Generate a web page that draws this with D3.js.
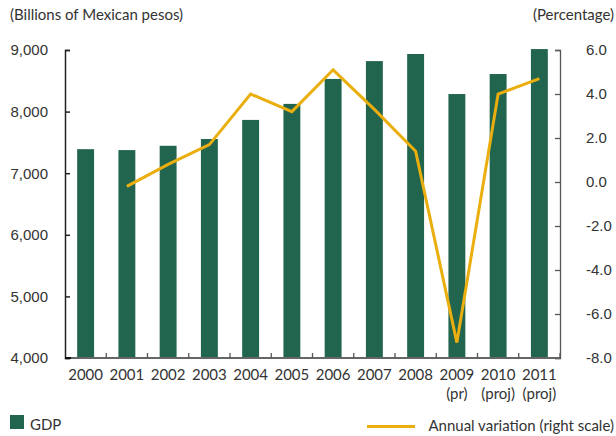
<!DOCTYPE html>
<html>
<head>
<meta charset="utf-8">
<script src="https://cdn.jsdelivr.net/npm/d3@7"></script>
<style>
  html, body { margin: 0; padding: 0; background: #fff; }
  svg { display: block; font-family: Lato, "Open Sans", sans-serif; font-weight: 400; }
  text { fill: #333; }
</style>
</head>
<body>
<svg id="chart" width="616" height="436"></svg>
<script>
// Mexican GDP (billions of pesos) and its annual variation (%)
const years     = ["2000", "2001", "2002", "2003", "2004", "2005", "2006", "2007", "2008", "2009", "2010", "2011"];
const yearNotes = ["", "", "", "", "", "", "", "", "", "(pr)", "(proj)", "(proj)"];
const gdp       = [7390, 7375, 7445, 7555, 7865, 8125, 8530, 8820, 8935, 8285, 8610, 9015];
const variation = [null, -0.2, 0.8, 1.7, 4.0, 3.2, 5.1, 3.3, 1.4, -7.3, 4.0, 4.7];
const leftTicks  = [4000, 5000, 6000, 7000, 8000, 9000];
const rightTicks = [-8, -6, -4, -2, 0, 2, 4, 6];

const green = "#22654f";
const gold = "#eaae0e";

const svg = d3.select("#chart");
const m = { left: 65, right: 560, top: 50, bottom: 358 };

const x = d3.scaleBand().domain(years).range([m.left, m.right]).paddingInner(0.59).paddingOuter(0.295);
const xStep = d3.scaleBand().domain(years).range([m.left, m.right]);
const yL = d3.scaleLinear().domain([4000, 9000]).range([m.bottom, m.top]);
const yR = d3.scaleLinear().domain([-8, 6]).range([m.bottom, m.top]);

// bars
svg.append("g").selectAll("rect")
  .data(years)
  .join("rect")
  .attr("x", d => x(d))
  .attr("width", x.bandwidth())
  .attr("y", (d, i) => yL(gdp[i]))
  .attr("height", (d, i) => m.bottom - yL(gdp[i]))
  .attr("fill", green);

// left axis
const gL = svg.append("g").attr("transform", `translate(${m.left},0)`)
  .call(d3.axisRight(yL).tickValues(leftTicks).tickSize(5).tickFormat(d3.format(",")));
gL.select(".domain").attr("stroke", "#222").attr("stroke-width", 1.5);
gL.selectAll(".tick line").attr("stroke", "#222").attr("stroke-width", 1.5);
gL.selectAll(".tick text").attr("x", -17).attr("text-anchor", "end")
  .attr("font-size", 15).attr("fill", "#333");

// right axis
const gR = svg.append("g").attr("transform", `translate(${m.right},0)`)
  .call(d3.axisLeft(yR).tickValues(rightTicks).tickSize(5).tickFormat(d3.format(".1f")));
gR.select(".domain").attr("stroke", "#555").attr("stroke-width", 1.3);
gR.selectAll(".tick line").attr("stroke", "#555").attr("stroke-width", 1.3);
gR.selectAll(".tick text").attr("x", 26).attr("text-anchor", "start")
  .attr("font-size", 15).attr("fill", "#333")
  .text(d => d3.format(".1f")(d).replace("−", "-"));

// bottom axis with tick marks at category boundaries
const boundaries = years.map(d => xStep(d)).concat([m.right]);
const gB = svg.append("g");
gB.append("line").attr("x1", m.left).attr("x2", m.right).attr("y1", m.bottom).attr("y2", m.bottom)
  .attr("stroke", "#666").attr("stroke-width", 1.8);
gB.append("line").attr("x1", m.left).attr("x2", m.left + 6).attr("y1", m.bottom).attr("y2", m.bottom)
  .attr("stroke", "#111").attr("stroke-width", 2);
gB.selectAll("line.b").data(boundaries.slice(1)).join("line").attr("class", "b")
  .attr("x1", d => d).attr("x2", d => d)
  .attr("y1", m.bottom).attr("y2", m.bottom - 5)
  .attr("stroke", "#555").attr("stroke-width", 1.3);

const cx = d => x(d) + x.bandwidth() / 2;
gB.selectAll("text.yr").data(years).join("text").attr("class", "yr")
  .attr("x", cx).attr("y", 380).attr("text-anchor", "middle")
  .attr("font-size", 15).text(d => d);
gB.selectAll("text.note").data(years.filter((d, i) => yearNotes[i])).join("text").attr("class", "note")
  .attr("x", cx).attr("y", 399).attr("text-anchor", "middle")
  .attr("font-size", 15).text(d => yearNotes[years.indexOf(d)]);

// variation line
const pts = years.map((d, i) => [d, variation[i]]).filter(p => p[1] !== null);
svg.append("path")
  .datum(pts)
  .attr("fill", "none")
  .attr("stroke", gold)
  .attr("stroke-width", 3)
  .attr("stroke-linejoin", "miter")
  .attr("d", d3.line().x(p => cx(p[0])).y(p => yR(p[1])));

// axis titles
svg.append("text").attr("x", 10).attr("y", 20).attr("font-size", 15).text("(Billions of Mexican pesos)");
svg.append("text").attr("x", 614).attr("y", 20).attr("text-anchor", "end").attr("font-size", 15).text("(Percentage)");

// legend
svg.append("rect").attr("x", 10).attr("y", 415).attr("width", 14).attr("height", 14).attr("fill", green);
svg.append("text").attr("x", 30).attr("y", 430).attr("font-size", 15).text("GDP");
svg.append("line").attr("x1", 367).attr("x2", 415).attr("y1", 426.5).attr("y2", 426.5)
  .attr("stroke", gold).attr("stroke-width", 3);
svg.append("text").attr("x", 614).attr("y", 431).attr("text-anchor", "end").attr("font-size", 15)
  .text("Annual variation (right scale)");
</script>
</body>
</html>
